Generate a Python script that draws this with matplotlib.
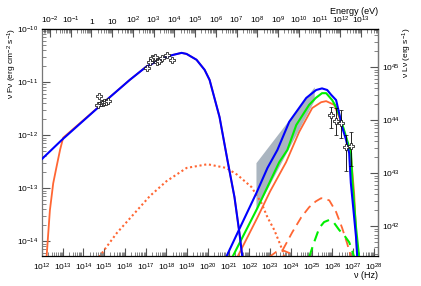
import numpy as np
import matplotlib
matplotlib.use('Agg')
import matplotlib.pyplot as plt
from matplotlib.ticker import LogLocator, FuncFormatter, NullFormatter

plt.rcParams['font.family'] = ['Liberation Sans', 'DejaVu Sans']
plt.rcParams['mathtext.fontset'] = 'custom'
plt.rcParams['mathtext.rm'] = 'Liberation Sans'
plt.rcParams['mathtext.it'] = 'Liberation Sans:italic'
plt.rcParams['mathtext.default'] = 'regular'

# all values are log10(nu [Hz]) and log10(nu F_nu [erg cm-2 s-1])
# synchrotron, full model (blue)
sync_blue_nu = [12.0, 12.96, 15.11, 16.23, 17.03, 17.83, 18.3, 18.73, 18.97, 19.45,
                19.84, 20.08, 20.56, 20.94, 21.28, 21.52, 21.66]
sync_blue_f = [-12.45, -12.09, -11.34, -10.96, -10.71, -10.55, -10.49, -10.45, -10.47, -10.58,
               -10.77, -10.96, -11.66, -12.47, -13.17, -13.85, -14.3]

# synchrotron with self-absorption (orange solid)
sync_org_nu = [12.22, 12.38, 12.54, 12.7, 12.87, 13.02, 15.11, 16.23, 17.03, 17.83, 18.3, 18.73,
               18.97, 19.45, 19.84, 20.08, 20.56, 20.94, 21.28, 21.52, 21.66]
sync_org_f = [-14.3, -13.42, -12.91, -12.6, -12.28, -12.05, -11.34, -10.96, -10.71, -10.55, -10.49,
              -10.45, -10.47, -10.58, -10.77, -10.96, -11.66, -12.47, -13.17, -13.85, -14.3]

# second-zone synchrotron (orange dotted)
sync2_nu = [14.75, 15.6, 16.4, 17.2, 18.0, 18.97, 19.98, 20.89, 21.42, 22.1, 22.58, 22.87,
            23.2, 23.44, 23.59, 23.68]
sync2_f = [-14.3, -13.85, -13.5, -13.15, -12.87, -12.62, -12.55, -12.62, -12.75, -12.98, -13.28,
           -13.55, -13.79, -14.02, -14.17, -14.3]

# inverse Compton components
ic_blue_nu = [20.88, 21.42, 22.34, 22.87, 23.35, 23.92, 24.74, 25.22, 25.5, 25.75, 25.94, 26.18,
              26.33, 26.47, 26.66, 26.81, 26.89, 27.05, 27.14, 27.2]
ic_blue_f = [-14.3, -13.85, -13.09, -12.62, -12.28, -11.75, -11.3, -11.15, -11.12, -11.15, -11.24,
             -11.34, -11.59, -11.85, -12.09, -12.34, -12.9, -13.55, -13.92, -14.3]

ic_green_nu = [21.18, 22.38, 23.44, 23.83, 24.26, 24.88, 25.2, 25.5, 25.7, 25.99, 26.18, 26.42,
               26.66, 26.9, 26.97, 27.14, 27.29]
ic_green_f = [-14.3, -13.38, -12.51, -12.28, -11.81, -11.43, -11.3, -11.21, -11.21, -11.34, -11.47,
              -11.72, -12.03, -12.34, -12.9, -13.74, -14.3]

ic_org_nu = [21.42, 22.38, 23.0, 23.77, 24.4, 25.03, 25.46, 25.7, 26.09, 26.42, 26.66, 26.9,
             27.05, 27.2]
ic_org_f = [-14.3, -13.56, -13.06, -12.51, -11.94, -11.49, -11.38, -11.36, -11.43, -11.75, -12.05,
            -12.4, -13.1, -14.3]

ic2_org_nu = [23.6, 24.07, 24.5, 24.88, 25.2, 25.46, 25.85, 26.18, 26.47, 26.71, 26.9]
ic2_org_f = [-14.17, -13.83, -13.55, -13.36, -13.25, -13.19, -13.23, -13.45, -13.75, -14.04, -14.3]

ic3_org_nu = [22.95, 23.3, 23.6, 23.9, 24.15]
ic3_org_f = [-14.3, -14.2, -14.17, -14.22, -14.3]

ic2_green_nu = [24.88, 25.12, 25.37, 25.6, 25.85, 26.09, 26.33, 26.57, 26.81, 26.95, 27.05]
ic2_green_f = [-14.3, -14.02, -13.75, -13.64, -13.6, -13.66, -13.79, -13.89, -14.02, -14.17, -14.3]

# Fermi-LAT butterfly
band_nu = [22.34, 25.15, 25.15, 22.34]
band_f = [-12.53, -11.1, -11.35, -13.42]

# data points
opt_nu = [14.74, 14.69, 14.84, 14.92, 15.0, 15.08, 15.16]
opt_f = [-11.26, -11.44, -11.40, -11.40, -11.38, -11.37, -11.35]

xray_nu = [17.05, 17.2, 17.29, 17.43, 17.53, 17.65, 17.77, 18.01, 18.25]
xray_f = [-10.74, -10.62, -10.55, -10.53, -10.62, -10.60, -10.55, -10.49, -10.58]

tev_nu = [25.94, 26.18, 26.42, 26.66, 26.9]
tev_f = [-11.62, -11.74, -11.77, -12.22, -12.2]
tev_lo = [-11.87, -12.0, -12.06, -12.68, -12.58]
tev_hi = [-11.47, -11.49, -11.53, -12.0, -11.94]

H_EV = 4.1357e-15
L_FACTOR = 10 ** 55.72

ORANGE = '#ff6633'
BLUE = '#0000ff'
GREEN = '#00ee00'
TICK = '#555555'
FS = 6


def p(a):
    return 10 ** np.asarray(a)


def root_fmt(v, pos):
    e = int(round(np.log10(v)))
    if e == 0:
        return '1'
    if e == 1:
        return '10'
    return r'$10^{%d}$' % e


def style_log_axis(axis):
    axis.set_major_locator(LogLocator(base=10, numticks=40))
    axis.set_minor_locator(LogLocator(base=10, subs=np.arange(2, 10), numticks=400))
    axis.set_minor_formatter(NullFormatter())
    axis.set_major_formatter(FuncFormatter(root_fmt))


fig = plt.figure(figsize=(4.21, 2.86), dpi=100)
ax = fig.add_axes([42 / 421, 30 / 286, 336 / 421, 227 / 286])
ax.set_xscale('log')
ax.set_yscale('log')
ax.set_xlim(1e12, 10 ** 28.2)
ax.set_ylim(10 ** -14.28, 1e-10)

ax.fill(p(band_nu), p(band_f), color='#aab5c0', lw=0, zorder=1)

ax.plot(p(sync2_nu), p(sync2_f), color=ORANGE, lw=1.5, ls=(0, (1, 1.3)), zorder=2)
ax.plot(p(ic3_org_nu), p(ic3_org_f), color=ORANGE, lw=1.3, ls=(0, (5, 3)), zorder=2)
ax.plot(p(ic2_org_nu), p(ic2_org_f), color=ORANGE, lw=1.3, ls=(0, (5, 3)), zorder=2)
ax.plot(p(ic2_green_nu), p(ic2_green_f), color=GREEN, lw=1.5, ls=(0, (5, 3)), zorder=2)

ax.plot(p(sync_org_nu), p(sync_org_f), color=ORANGE, lw=1.3, zorder=3)
ax.plot(p(ic_org_nu), p(ic_org_f), color=ORANGE, lw=1.3, zorder=3)
ax.plot(p(ic_green_nu), p(ic_green_f), color=GREEN, lw=1.5, zorder=4)
ax.plot(p(sync_blue_nu), p(sync_blue_f), color=BLUE, lw=1.5, zorder=5)
ax.plot(p(ic_blue_nu), p(ic_blue_f), color=BLUE, lw=1.5, zorder=5)

mk = dict(marker='P', ms=5, mfc='white', mec='black', mew=0.5, ls='none', zorder=6)
ax.plot(p(opt_nu), p(opt_f), **mk)
ax.plot(p(xray_nu), p(xray_f), **mk)
tf = p(tev_f)
ax.errorbar(p(tev_nu), tf, yerr=[tf - p(tev_lo), p(tev_hi) - tf], color='black',
            elinewidth=0.6, capsize=1.5, capthick=0.6, **mk)

# ticks
style_log_axis(ax.xaxis)
style_log_axis(ax.yaxis)
ax.tick_params(which='both', direction='in', labelsize=FS, color=TICK)
ax.tick_params(which='major', length=6, width=0.8)
ax.tick_params(which='minor', length=3, width=0.5)
ax.tick_params(axis='x', pad=4)
ax.tick_params(axis='y', pad=3)
for s in ('top', 'bottom', 'left', 'right'):
    ax.spines[s].set_linewidth(0.9)
ax.spines['left'].set_color('#777777')
ax.spines['right'].set_color('#777777')

top = ax.secondary_xaxis('top', functions=(lambda x: x * H_EV, lambda e: e / H_EV))
style_log_axis(top.xaxis)
top.tick_params(which='both', direction='in', labelsize=FS, color=TICK, pad=2)
top.tick_params(which='major', length=6, width=0.8)
top.tick_params(which='minor', length=3, width=0.5)

right = ax.secondary_yaxis('right', functions=(lambda f: f * L_FACTOR, lambda l: l / L_FACTOR))
style_log_axis(right.yaxis)
right.tick_params(which='both', direction='in', labelsize=FS, color=TICK, pad=3)
right.tick_params(which='major', length=6, width=0.8)
right.tick_params(which='minor', length=3, width=0.5)

fig.text(12 / 421, 1 - 28 / 286, 'ν Fν (erg cm$^{-2}$ s$^{-1}$)', rotation=90,
         ha='center', va='top', fontsize=6)
fig.text(407 / 421, 1 - 28 / 286, 'ν Lν (erg s$^{-1}$)', rotation=90,
         ha='center', va='top', fontsize=6)
fig.text(378 / 421, 1 - 11 / 286, 'Energy (eV)', ha='right', va='center', fontsize=6.5)
fig.text(378 / 421, 1 - 276 / 286, 'ν (Hz)', ha='right', va='center', fontsize=6.5)

fig.savefig('out.png', dpi=100)
